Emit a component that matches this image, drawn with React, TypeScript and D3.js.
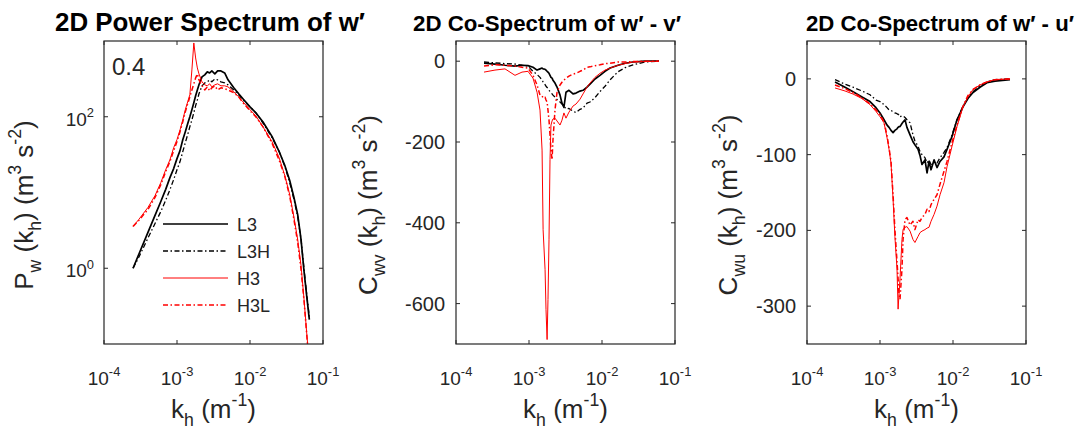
import React, { useEffect, useRef } from "react";
import * as d3 from "d3";

// ---------- Panel 1: 2D power spectrum of w' ----------
const kPw = [2.5e-4, 3e-4, 4e-4, 5e-4, 6e-4, 7e-4, 8e-4, 9e-4, 1.0e-3, 1.1e-3, 1.2e-3, 1.3e-3, 1.4e-3, 1.5e-3, 1.6e-3, 1.7e-3, 1.8e-3, 1.9e-3, 2.0e-3, 2.2e-3, 2.4e-3, 2.6e-3, 2.8e-3, 3.0e-3, 3.3e-3, 3.6e-3, 4.0e-3, 4.5e-3, 5e-3, 6e-3, 7e-3, 8e-3, 1e-2, 1.2e-2, 1.5e-2, 2e-2, 2.5e-2, 3e-2, 3.5e-2, 4e-2, 4.5e-2, 5e-2, 5.5e-2, 6e-2, 6.5e-2];
const pwL3 = [1.0, 1.53, 2.98, 4.98, 7.6, 11, 15.7, 20.7, 28, 35.7, 49.8, 63.5, 81, 100, 124, 153, 189, 226, 264, 336, 357, 391, 379, 403, 368, 403, 403, 379, 307, 241, 201, 173, 135, 113, 86, 55, 35, 22.7, 14.4, 8.6, 5.1, 2.4, 0.91, 0.42, 0.21];
const pwL3H = [1.0, 1.4, 2.5, 3.9, 5.6, 7.9, 10.9, 14.8, 20, 25.6, 34.6, 45.5, 58, 74, 91, 113, 140, 167, 201, 256, 280, 289, 307, 289, 316, 307, 289, 280, 264, 226, 195, 167, 135, 113, 83, 53, 35, 22, 13.5, 8.1, 4.8, 2.4, 0.97, 0.44, 0.23];
const pwH3 = [3.57, 4.41, 6.35, 9.1, 13.5, 20, 27, 39, 50, 67, 91, 124, 157, 195, 415, 942, 597, 441, 368, 289, 264, 256, 272, 248, 264, 272, 256, 256, 248, 213, 183, 157, 124, 103, 74, 47, 29, 16.7, 9.4, 4.7, 2.4, 1.09, 0.39, 0.135, 0.055];
const pwH3L = [3.57, 4.28, 5.98, 8.6, 12.7, 18.9, 25.6, 35.7, 47, 63.5, 86, 116, 148, 183, 226, 272, 326, 368, 307, 256, 226, 248, 220, 241, 256, 226, 241, 234, 226, 207, 183, 153, 120, 100, 74, 45, 27, 16.3, 8.9, 4.4, 2.2, 0.97, 0.37, 0.13, 0.05];

// ---------- Panel 2: co-spectrum w' - v' ----------
const kWv = [2.42e-4, 3.42e-4, 4.69e-4, 6.43e-4, 8.02e-4, 9.69e-4, 1.135e-3, 1.29e-3, 1.415e-3, 1.51e-3, 1.56e-3, 1.66e-3, 1.71e-3, 1.77e-3, 1.82e-3, 1.88e-3, 1.94e-3, 2.0e-3, 2.07e-3, 2.13e-3, 2.27e-3, 2.42e-3, 2.66e-3, 2.83e-3, 3.01e-3, 3.21e-3, 3.53e-3, 4.01e-3, 4.41e-3, 5.0e-3, 5.5e-3, 6.23e-3, 6.85e-3, 8.02e-3, 9.39e-3, 1.10e-2, 1.29e-2, 1.66e-2, 2.07e-2, 2.66e-2, 3.88e-2, 6.04e-2];
const wvL3 = [-5, -7, -10, -12, -10, -11, -15, -22, -19, -17, -19, -20, -22, -25, -27, -30, -35, -40, -42, -47, -54, -64, -84, -104, -114, -77, -72, -81, -79, -74, -72, -64, -57, -44, -35, -25, -17, -10, -5, -2, 0, 0];
const wvL3H = [-2, -4, -6, -7, -10, -12, -25, -33, -40, -47, -51, -58, -62, -65, -68, -72, -75, -78, -81, -84, -89, -95, -101, -106, -111, -118, -117, -124, -127, -119, -116, -104, -101, -90, -75, -62, -46, -26, -16, -9, -2, 0];
const wvH3 = [-27, -22, -19, -35, -27, -25, -42, -77, -121, -220, -417, -516, -615, -689, -590, -442, -244, -158, -148, -143, -141, -148, -158, -146, -128, -141, -126, -111, -106, -94, -81, -64, -54, -40, -30, -22, -17, -10, -6, -2, -1, 0];
const wvH3L = [-12, -9, -10, -12, -15, -17, -35, -59, -84, -86, -91, -89, -96, -101, -121, -146, -183, -220, -244, -195, -121, -77, -59, -52, -47, -42, -37, -32, -30, -25, -22, -15, -14, -11, -9, -6, -5, -2, -2, -1, 0, 0];

// ---------- Panel 3: co-spectrum w' - u' ----------
const kWu = [2.42e-4, 3.32e-4, 4.27e-4, 5.67e-4, 7.30e-4, 8.81e-4, 1.0e-3, 1.135e-3, 1.25e-3, 1.33e-3, 1.415e-3, 1.51e-3, 1.60e-3, 1.71e-3, 1.77e-3, 1.82e-3, 1.88e-3, 2.0e-3, 2.07e-3, 2.20e-3, 2.34e-3, 2.58e-3, 2.83e-3, 3.01e-3, 3.32e-3, 3.53e-3, 3.76e-3, 4.13e-3, 4.41e-3, 4.69e-3, 5.0e-3, 5.50e-3, 6.04e-3, 6.64e-3, 7.53e-3, 8.28e-3, 9.69e-3, 1.135e-2, 1.37e-2, 1.60e-2, 1.88e-2, 2.34e-2, 2.92e-2, 3.76e-2, 6.04e-2];
const wuL3 = [-4, -11, -17, -24, -30, -38, -45, -54, -61, -64, -68, -71, -68, -66, -64, -63, -63, -59, -57, -54, -64, -74, -83, -87, -93, -101, -113, -107, -124, -109, -120, -107, -117, -109, -103, -93, -76, -54, -37, -26, -18, -11, -5, -3, -1];
const wuL3H = [-1, -7, -11, -16, -21, -28, -30, -34, -38, -41, -42, -43, -45, -46, -47, -47, -50, -49, -49, -51, -54, -58, -74, -82, -89, -96, -100, -104, -111, -107, -113, -109, -111, -104, -97, -91, -74, -54, -36, -25, -17, -9, -4, -1, 0];
const wuH3 = [-12, -16, -20, -26, -34, -43, -50, -58, -78, -93, -111, -159, -208, -251, -304, -284, -264, -212, -199, -196, -195, -201, -212, -216, -208, -203, -201, -199, -197, -196, -188, -179, -168, -153, -137, -116, -89, -63, -37, -24, -14, -8, -4, -1, 0];
const wuH3L = [-8, -13, -18, -25, -33, -41, -47, -57, -75, -91, -109, -153, -199, -241, -264, -284, -291, -251, -212, -186, -183, -193, -188, -199, -186, -188, -183, -179, -172, -175, -166, -159, -153, -139, -122, -109, -84, -61, -36, -22, -14, -8, -4, -1, 0];

const seriesNames = ["L3", "L3H", "H3", "H3L"];
const xTickExps = [-4, -3, -2, -1];
const pwTickExps = [0, 2];
const wvTicks = [-600, -400, -200, 0];
const wuTicks = [-300, -200, -100, 0];

const FONT = "'Liberation Sans', Arial, Helvetica, sans-serif";
const TXT = "#262626";
const styles = [
  { color: "#000000", width: 1.7, dash: null as string | null },
  { color: "#000000", width: 1.3, dash: "5,2.5,1.5,2.5" },
  { color: "#ff0000", width: 1.0, dash: null as string | null },
  { color: "#ff0000", width: 1.5, dash: "5,2.5,1.5,2.5" },
];

type Part = { t: string; s?: "sub" | "sup" };
function rich(sel: any, parts: Part[], fs: number) {
  let shift = 0;
  parts.forEach((p) => {
    const target = p.s === "sub" ? fs * 0.32 : p.s === "sup" ? -fs * 0.45 : 0;
    const ts = sel.append("tspan").text(p.t).attr("dy", target - shift);
    if (p.s) ts.attr("font-size", fs * 0.68);
    shift = target;
  });
}

export default function App() {
  const ref = useRef<SVGSVGElement>(null);
  useEffect(() => {
    const svg = d3.select(ref.current);
    svg.selectAll("*").remove();
    const top = 41, bottom = 344, pw = 219;
    const labFs = 26;

    const panels = [
      { left: 104, log: true, yDomain: [0.1, 1000], k: kPw, data: [pwL3, pwL3H, pwH3, pwH3L],
        title: "2D Power Spectrum of w\u2032", titleX: 210, titleLen: 310, titleFs: 25,
        ylab: [{ t: "P" }, { t: "w", s: "sub" }, { t: " (k" }, { t: "h", s: "sub" }, { t: ") (m" }, { t: "3", s: "sup" }, { t: " s" }, { t: "-2", s: "sup" }, { t: ")" }] as Part[],
        ylabX: 33 },
      { left: 456, log: false, yDomain: [-700, 50], k: kWv, data: [wvL3, wvL3H, wvH3, wvH3L],
        title: "2D Co-Spectrum of w\u2032 - v\u2032", titleX: 547, titleLen: 268, titleFs: 22,
        ylab: [{ t: "C" }, { t: "wv", s: "sub" }, { t: " (k" }, { t: "h", s: "sub" }, { t: ") (m" }, { t: "3", s: "sup" }, { t: " s" }, { t: "-2", s: "sup" }, { t: ")" }] as Part[],
        ylabX: 377, ticks: wvTicks },
      { left: 807, log: false, yDomain: [-350, 50], k: kWu, data: [wuL3, wuL3H, wuH3, wuH3L],
        title: "2D Co-Spectrum of w\u2032 - u\u2032", titleX: 940, titleLen: 268, titleFs: 22,
        ylab: [{ t: "C" }, { t: "wu", s: "sub" }, { t: " (k" }, { t: "h", s: "sub" }, { t: ") (m" }, { t: "3", s: "sup" }, { t: " s" }, { t: "-2", s: "sup" }, { t: ")" }] as Part[],
        ylabX: 737, ticks: wuTicks },
    ];

    svg.append("rect").attr("width", 1077).attr("height", 441).attr("fill", "#fff");

    panels.forEach((p, pi) => {
      const right = p.left + pw;
      const x = d3.scaleLog().domain([1e-4, 1e-1]).range([p.left, right]);
      const y: any = p.log
        ? d3.scaleLog().domain(p.yDomain).range([bottom, top])
        : d3.scaleLinear().domain(p.yDomain).range([bottom, top]);
      const g = svg.append("g").attr("font-family", FONT);

      const clipId = `clip${pi}`;
      svg.append("clipPath").attr("id", clipId).append("rect")
        .attr("x", p.left).attr("y", top).attr("width", pw).attr("height", bottom - top);

      // data lines
      const lg = g.append("g").attr("clip-path", `url(#${clipId})`);
      p.data.forEach((vals, si) => {
        const pts = p.k.map((kk, i) => [kk, vals[i]] as [number, number]);
        const line = d3.line<[number, number]>().x((d) => x(d[0])).y((d) => y(d[1]));
        const st = styles[si];
        const path = lg.append("path").attr("d", line(pts) as string)
          .attr("fill", "none").attr("stroke", st.color).attr("stroke-width", st.width)
          .attr("stroke-linejoin", "round");
        if (st.dash) path.attr("stroke-dasharray", st.dash);
      });

      // box
      g.append("rect").attr("x", p.left).attr("y", top).attr("width", pw).attr("height", bottom - top)
        .attr("fill", "none").attr("stroke", TXT).attr("stroke-width", 1.2);

      // x ticks
      xTickExps.forEach((e) => {
        const xx = x(Math.pow(10, e));
        g.append("line").attr("x1", xx).attr("x2", xx).attr("y1", bottom).attr("y2", bottom - 4).attr("stroke", TXT);
        g.append("line").attr("x1", xx).attr("x2", xx).attr("y1", top).attr("y2", top + 4).attr("stroke", TXT);
        const t = g.append("text").attr("x", xx).attr("y", 385).attr("text-anchor", "middle")
          .attr("font-size", 19).attr("fill", TXT);
        rich(t, [{ t: "10" }, { t: String(e), s: "sup" }], 19);
      });

      // y ticks
      if (p.log) {
        pwTickExps.forEach((e) => {
          const yy = y(Math.pow(10, e));
          g.append("line").attr("x1", p.left).attr("x2", p.left + 4).attr("y1", yy).attr("y2", yy).attr("stroke", TXT);
          g.append("line").attr("x1", right).attr("x2", right - 4).attr("y1", yy).attr("y2", yy).attr("stroke", TXT);
          const t = g.append("text").attr("x", p.left - 10).attr("y", yy + 9).attr("text-anchor", "end")
            .attr("font-size", 19).attr("fill", TXT);
          rich(t, [{ t: "10" }, { t: String(e), s: "sup" }], 19);
        });
      } else {
        (p as any).ticks.forEach((v: number) => {
          const yy = y(v);
          g.append("line").attr("x1", p.left).attr("x2", p.left + 4).attr("y1", yy).attr("y2", yy).attr("stroke", TXT);
          g.append("line").attr("x1", right).attr("x2", right - 4).attr("y1", yy).attr("y2", yy).attr("stroke", TXT);
          g.append("text").attr("x", p.left - 11).attr("y", yy + 7).attr("text-anchor", "end")
            .attr("font-size", 20).attr("fill", TXT).text(String(v));
        });
      }

      // x label
      const xl = g.append("text").attr("x", p.left + pw / 2).attr("y", 418).attr("text-anchor", "middle")
        .attr("font-size", labFs).attr("fill", TXT);
      rich(xl, [{ t: "k" }, { t: "h", s: "sub" }, { t: " (m" }, { t: "-1", s: "sup" }, { t: ")" }], labFs);

      // y label
      const yl = g.append("text").attr("transform", `translate(${p.ylabX},${205}) rotate(-90)`)
        .attr("text-anchor", "middle").attr("font-size", labFs).attr("fill", TXT);
      rich(yl, p.ylab, labFs);

      // title
      g.append("text").attr("x", p.titleX).attr("y", 31).attr("text-anchor", "middle")
        .attr("font-size", p.titleFs).attr("font-weight", "bold").attr("fill", "#000")
        .attr("textLength", p.titleLen).attr("lengthAdjust", "spacingAndGlyphs").text(p.title);

      if (pi === 0) {
        g.append("text").attr("x", 112).attr("y", 75).attr("font-size", 24).attr("fill", TXT).text("0.4");
        // legend
        const rows = [224, 251, 278, 305];
        seriesNames.forEach((nm, si) => {
          const st = styles[si];
          const ln = g.append("line").attr("x1", 163).attr("x2", 228).attr("y1", rows[si]).attr("y2", rows[si])
            .attr("stroke", st.color).attr("stroke-width", st.width);
          if (st.dash) ln.attr("stroke-dasharray", st.dash);
          g.append("text").attr("x", 237).attr("y", rows[si] + 6.5).attr("font-size", 18).attr("fill", TXT).text(nm);
        });
      }
    });
  }, []);
  return <svg ref={ref} width={1077} height={441} style={{ position: "absolute", left: 0, top: 0 }} />;
}
